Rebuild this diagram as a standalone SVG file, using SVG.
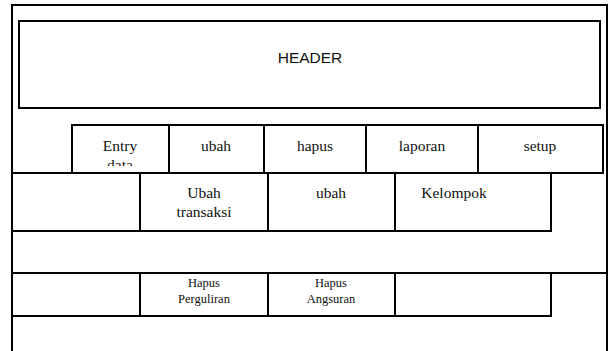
<svg xmlns="http://www.w3.org/2000/svg" width="611" height="351" viewBox="0 0 611 351">
<style>
.b{fill:#fff;stroke:#000;stroke-width:2}
.l{fill:none;stroke:#000;stroke-width:2}
.s{font-family:"Liberation Serif","Times New Roman",serif;font-size:15.5px;fill:#111;text-anchor:middle}
.sm{font-family:"Liberation Serif","Times New Roman",serif;font-size:12.5px;fill:#111;text-anchor:middle}
.h{font-family:"Liberation Sans",Arial,sans-serif;font-size:15.5px;fill:#111;text-anchor:middle}
</style>
<defs>
<clipPath id="clipEntry"><rect x="72" y="125" width="97" height="41"/></clipPath>
</defs>
<rect width="611" height="351" fill="#fff"/>
<g id="frame">
<path class="l" d="M12 351V5H607V351"/>
</g>
<g id="connectors">
<path class="l" d="M12 173H603"/>
<path class="l" d="M12 273H607"/>
</g>
<g id="header">
<rect class="b" x="19" y="21" width="581" height="87"/>
<text class="h" x="310" y="63">HEADER</text>
</g>
<g id="entry-data">
<rect class="b" x="72" y="125" width="97" height="48"/>
<g clip-path="url(#clipEntry)">
<text class="s" x="120" y="151">Entry</text>
<text class="s" x="120" y="170">data</text>
</g>
</g>
<g id="menu-ubah">
<rect class="b" x="169" y="125" width="95" height="48"/>
<text class="s" x="216" y="151">ubah</text>
</g>
<g id="menu-hapus">
<rect class="b" x="264" y="125" width="102" height="48"/>
<text class="s" x="315" y="151">hapus</text>
</g>
<g id="menu-laporan">
<rect class="b" x="366" y="125" width="112" height="48"/>
<text class="s" x="422" y="151">laporan</text>
</g>
<g id="menu-setup">
<rect class="b" x="478" y="125" width="125" height="48"/>
<text class="s" x="540" y="151">setup</text>
</g>
<g id="row2-left">
<rect class="b" x="12" y="173" width="128" height="58"/>
</g>
<g id="ubah-transaksi">
<rect class="b" x="140" y="173" width="128" height="58"/>
<text class="s" x="204" y="198">Ubah</text>
<text class="s" x="204" y="217">transaksi</text>
</g>
<g id="sub-ubah">
<rect class="b" x="268" y="173" width="127" height="58"/>
<text class="s" x="331" y="198">ubah</text>
</g>
<g id="kelompok">
<rect class="b" x="395" y="173" width="156" height="58"/>
<text class="s" x="454" y="198">Kelompok</text>
</g>
<g id="row3-left">
<rect class="b" x="12" y="273" width="128" height="43"/>
</g>
<g id="hapus-perguliran">
<rect class="b" x="140" y="273" width="128" height="43"/>
<text class="sm" x="204" y="287">Hapus</text>
<text class="sm" x="204" y="303">Perguliran</text>
</g>
<g id="hapus-angsuran">
<rect class="b" x="268" y="273" width="127" height="43"/>
<text class="sm" x="331" y="287">Hapus</text>
<text class="sm" x="331" y="303">Angsuran</text>
</g>
<g id="row3-empty">
<rect class="b" x="395" y="273" width="156" height="43"/>
</g>
</svg>
